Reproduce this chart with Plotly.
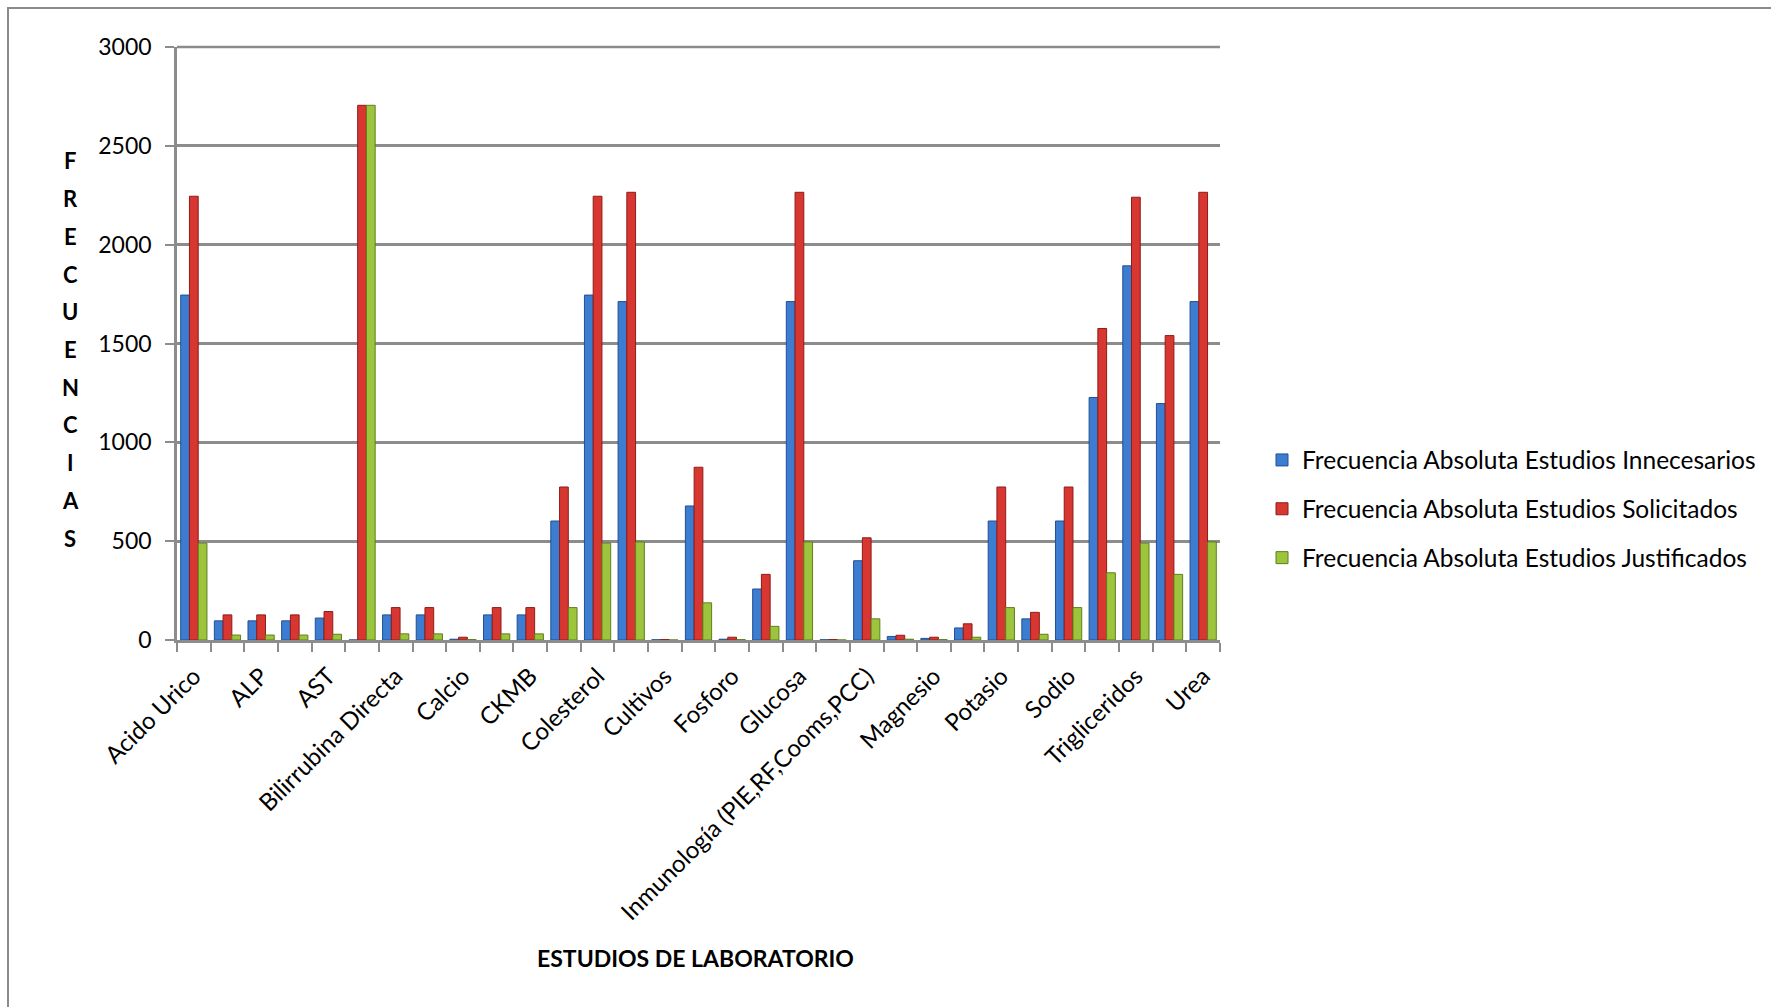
import plotly.graph_objects as go

# Lab studies (31 groups; only every other one carries a tick label)
etiquetas = ["Acido Urico", "ALP", "AST", "Bilirrubina Directa", "Calcio", "CKMB",
             "Colesterol", "Cultivos", "Fosforo", "Glucosa",
             "Inmunología (PIE,RF,Cooms,PCC)", "Magnesio", "Potasio", "Sodio",
             "Trigliceridos", "Urea"]

innecesarios = [1745, 97, 97, 97, 111, 0, 127, 127, 4, 127, 127, 602, 1745, 1712, 1,
                678, 4, 258, 1712, 1, 401, 18, 8, 61, 602, 107, 602, 1227, 1893, 1196, 1712]
solicitados = [2245, 127, 127, 127, 144, 2705, 164, 164, 14, 164, 164, 774, 2245, 2265, 2,
               874, 14, 332, 2265, 2, 517, 24, 14, 82, 774, 140, 774, 1576, 2240, 1540, 2265]
justificados = [490, 25, 25, 25, 29, 2705, 31, 31, 2, 31, 31, 164, 490, 496, 0,
                188, 2, 69, 496, 0, 107, 4, 2, 14, 164, 29, 164, 340, 490, 332, 496]

series = [
    ("Frecuencia Absoluta Estudios Innecesarios", innecesarios, "#3c7dd2", "#22508f"),
    ("Frecuencia Absoluta Estudios Solicitados", solicitados, "#d83630", "#8e1c18"),
    ("Frecuencia Absoluta Estudios Justificados", justificados, "#9cc43c", "#5f7f1c"),
]

posiciones = list(range(len(innecesarios)))
tick_pos = posiciones[::2]
y_max = 3000

W, H = 1771, 1007
L, R, T, B = 177, 1220, 47, 640  # plot area in pixels


def px(x):
    return (x - L) / (R - L)


def py(y):
    return (B - y) / (B - T)


fig = go.Figure()
for i, (nombre, vals, color, borde) in enumerate(series):
    fig.add_trace(go.Bar(
        x=posiciones, y=vals, name=nombre, legendgroup=str(i),
        marker=dict(color=color, line=dict(color=borde, width=1)),
    ))

grid = "#8c8c8c"
font_txt = "Lato, Open Sans, sans-serif"

fig.update_layout(
    width=W, height=H,
    margin=dict(l=L, r=W - R, t=T, b=H - B, autoexpand=False),
    paper_bgcolor="white", plot_bgcolor="white",
    barmode="group", bargap=0.22, bargroupgap=0.0,
    font=dict(family=font_txt, size=22, color="black"),
    xaxis=dict(
        range=[-0.5, len(posiciones) - 0.5],
        tickmode="array", tickvals=tick_pos, ticktext=etiquetas,
        tickangle=-45, ticks="", showgrid=False, zeroline=False,
        showline=True, linecolor=grid, linewidth=2.5,
        tickfont=dict(family=font_txt, size=24),
        ticklabelstandoff=10,
        minor=dict(ticks="outside", tick0=-0.5, dtick=1, ticklen=9,
                   tickcolor=grid, tickwidth=2, showgrid=False),
        automargin=False,
    ),
    yaxis=dict(
        range=[0, y_max], tickmode="linear", tick0=0, dtick=500,
        showgrid=True, gridcolor=grid, gridwidth=2.5,
        zeroline=False, showline=True, linecolor=grid, linewidth=2.5,
        ticks="outside", ticklen=9, tickcolor=grid, tickwidth=2,
        tickfont=dict(family=font_txt, size=23),
        ticklabelstandoff=9,
        automargin=False,
    ),
    legend=dict(
        x=px(1262), xanchor="left", y=py(509), yanchor="middle",
        font=dict(family=font_txt, size=24.5),
        tracegroupgap=14, bgcolor="rgba(0,0,0,0)",
    ),
    showlegend=True,
)

annotations = []
# vertical axis title, one letter per line
for k, letra in enumerate("FRECUENCIAS"):
    annotations.append(dict(
        x=px(70), y=py(161 + k * 37.7), xref="paper", yref="paper",
        text=f"<b>{letra}</b>", showarrow=False,
        font=dict(family=font_txt, size=22, color="black"),
        xanchor="center", yanchor="middle",
    ))
annotations.append(dict(
    x=px(695), y=py(958), xref="paper", yref="paper",
    text="<b>ESTUDIOS DE LABORATORIO</b>", showarrow=False,
    font=dict(family=font_txt, size=23, color="black"),
    xanchor="center", yanchor="middle",
))
fig.update_layout(annotations=annotations)

# top gridline along the upper edge of the plot area
fig.add_shape(type="line", xref="paper", yref="paper", x0=0, x1=1, y0=1, y1=1,
              line=dict(color=grid, width=2.5), layer="below")

# outer chart frame
fig.add_shape(type="rect", xref="paper", yref="paper",
              x0=px(8), x1=px(1800), y0=py(1030), y1=py(8),
              line=dict(color="#8a8a8a", width=2), fillcolor="rgba(0,0,0,0)",
              layer="below")

fig.write_html("out.html")
